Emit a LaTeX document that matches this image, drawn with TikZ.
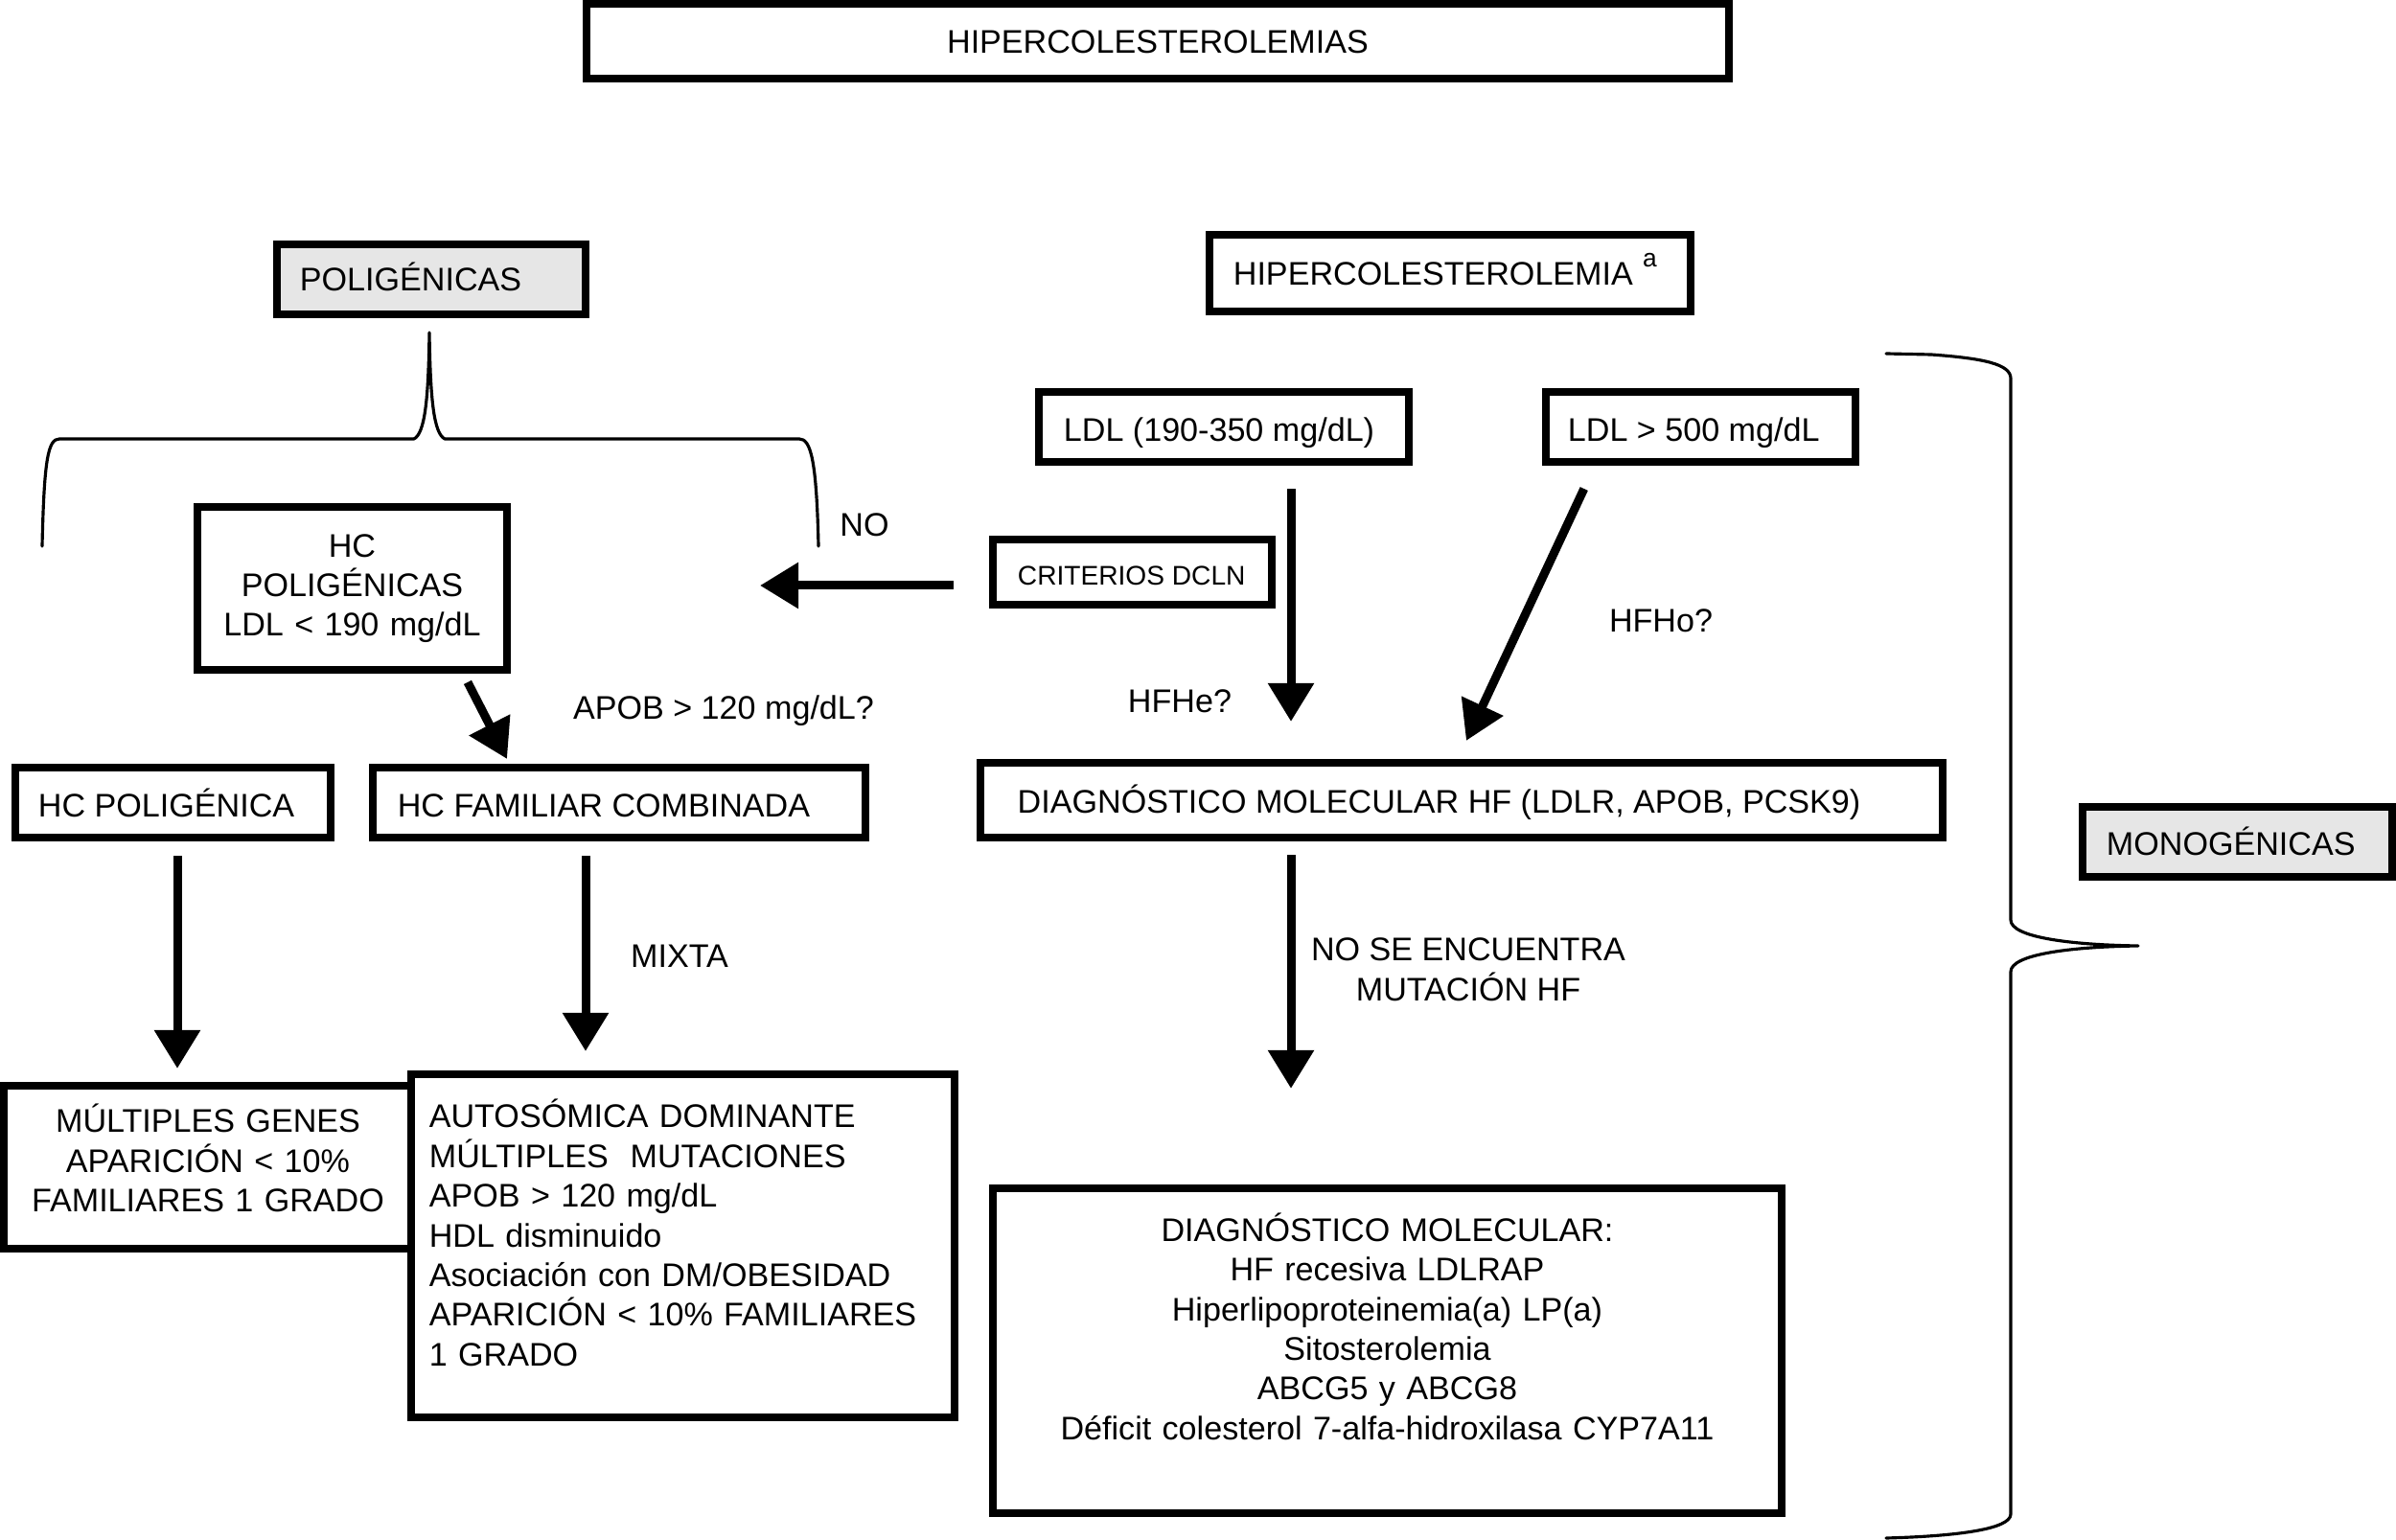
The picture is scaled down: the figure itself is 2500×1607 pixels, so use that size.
\documentclass[tikz,border=0pt]{standalone}
\usepackage{fontspec}
\setmainfont{Liberation Sans}
\usetikzlibrary{arrows.meta}
\definecolor{boxgray}{RGB}{230,230,230}
\newcommand\fsz{\fontsize{9.7pt}{11.8pt}\selectfont}
\newcommand\fsm{\fontsize{8pt}{9.6pt}\selectfont}
\newcommand\myhd[2]{\rule[-#2]{0pt}{\dimexpr#1+#2\relax}}
\newcommand\myht[1]{\rule{0pt}{#1}}
\newcommand\mydp[1]{\rule[-#1]{0pt}{#1}}
\newcommand\lline[2]{\makebox[#1][l]{#2}}
\begin{document}
\begin{tikzpicture}[x=0.01cm,y=-0.01cm,
  box/.style={draw, line width=0.08cm, fill=white, inner ysep=0pt, font=\fsz},
  graybox/.style={box, fill=boxgray},
  arr/.style={line width=0.09cm, -{Triangle[length=0.40cm,width=0.46cm]}},
  brace/.style={line width=0.9pt, line join=round, line cap=round},
  lbl/.style={inner sep=0pt, font=\fsz, anchor=base}]
\useasboundingbox (0,0) rectangle (2500,1607);

% boxes
\node[box, inner xsep=0pt, text width=11.92cm, align=center] (title) at (1208,43) {\myhd{0.516cm}{0.264cm}HIPERCOLESTEROLEMIAS};
\node[graybox, inner xsep=0.24cm] (polig) at (450,291.5) {\lline{2.74cm}{\myhd{0.49cm}{0.24cm}POLIGÉNICAS}};
\node[box, inner xsep=0.25cm] (hiper) at (1513,285) {\lline{4.52cm}{\myhd{0.53cm}{0.27cm}HIPERCOLESTEROLEMIA\hspace{0.3em}\raisebox{5.5pt}{\fontsize{7.5pt}{9pt}\selectfont a}}};
\node[box, inner xsep=0.26cm] (ldlA) at (1277,445.5) {\lline{3.34cm}{\myhd{0.51cm}{0.22cm}LDL (190-350 mg/dL)}};
\node[box, inner xsep=0.23cm] (ldlB) at (1774.5,445.5) {\lline{2.77cm}{\myhd{0.51cm}{0.22cm}LDL > 500 mg/dL}};
\node[box, inner xsep=0.26cm, font=\fsm] (crit) at (1181.5,597) {\lline{2.39cm}{\myhd{0.47cm}{0.21cm}CRITERIOS DCLN}};
\node[box, inner xsep=0pt, text width=3.23cm, align=center] (hcp) at (367.5,614) {\myht{0.52cm}HC\\POLIGÉNICAS\\LDL < 190 mg/dL\mydp{0.35cm}};
\node[box, inner xsep=0.24cm] (hcpg) at (180.5,837.5) {\lline{2.81cm}{\myhd{0.51cm}{0.22cm}HC POLIGÉNICA}};
\node[box, inner xsep=0.26cm] (hcfam) at (646,837.5) {\lline{4.62cm}{\myhd{0.51cm}{0.22cm}HC FAMILIAR COMBINADA}};
\node[box, inner xsep=0.39cm] (diag) at (1525,835) {\lline{9.26cm}{\myhd{0.52cm}{0.26cm}DIAGNÓSTICO MOLECULAR HF (LDLR, APOB, PCSK9)}};
\node[graybox, inner xsep=0.25cm] (mono) at (2334.5,878.5) {\lline{2.73cm}{\myhd{0.50cm}{0.23cm}MONOGÉNICAS}};
\node[box, inner xsep=0pt, text width=4.26cm, align=center] (mult) at (217,1218) {\myht{0.485cm}MÚLTIPLES GENES\\APARICIÓN < 10\%\\FAMILIARES 1 GRADO\mydp{0.385cm}};
\node[box, inner xsep=0.19cm, text width=5.29cm, align=left] (auto) at (712.5,1300.25) {\myht{0.55cm}AUTOSÓMICA DOMINANTE\\MÚLTIPLES\ \ MUTACIONES\\APOB > 120 mg/dL\\HDL disminuido\\Asociación con DM/OBESIDAD\\\mbox{APARICIÓN < 10\% FAMILIARES}\\1 GRADO\mydp{0.535cm}};
\node[box, inner xsep=0pt, text width=8.23cm, align=center] (diag2) at (1447.5,1409.5) {\myht{0.55cm}DIAGNÓSTICO MOLECULAR:\\HF recesiva LDLRAP\\Hiperlipoproteinemia(a) LP(a)\\Sitosterolemia\\ABCG5 y ABCG8\\Déficit colesterol 7-alfa-hidroxilasa CYP7A11\mydp{0.765cm}};

% labels
\node[lbl] (lNO) at (902,560) {NO};
\node[lbl] (lHFHe) at (1231,744) {HFHe?};
\node[lbl] (lHFHo) at (1733,660) {HFHo?};
\node[lbl] (lAPOB) at (755,751) {APOB > 120 mg/dL?};
\node[lbl] (lMIXTA) at (709,1009) {MIXTA};
\node[inner sep=0pt, font=\fsz, align=center] (lNOSE) at (1532,1011) {\myht{0.30cm}NO SE ENCUENTRA\\MUTACIÓN HF\mydp{0.05cm}};

% coordinates for arrow positions
\coordinate (tipNO) at (793,611);
\coordinate (xA) at (1347,0);
\coordinate (xB1) at (1664,0);
\coordinate (xB2) at (1521,0);
\coordinate (xC1) at (483.4,0);
\coordinate (xC2) at (531.6,0);
\coordinate (xD) at (185,0);
\coordinate (xE) at (611,0);

% arrows
\draw[arr, shorten <=0.37cm] (crit.west |- tipNO) -- (tipNO);
\draw[arr, shorten <=0.24cm, shorten >=0.39cm] (ldlA.south -| xA) -- (diag.north -| xA);
\draw[arr, shorten <=0.265cm, shorten >=0.21cm] (ldlB.south -| xB1) -- (diag.north -| xB2);
\draw[arr, shorten <=0.10cm, shorten >=0.056cm] (hcp.south -| xC1) -- (hcfam.north -| xC2);
\draw[arr, shorten <=0.15cm, shorten >=0.14cm] (hcpg.south -| xD) -- (mult.north -| xD);
\draw[arr, shorten <=0.15cm, shorten >=0.205cm] (hcfam.south -| xE) -- (auto.north -| xE);
\draw[arr, shorten <=0.14cm, shorten >=1.00cm] (diag.south -| xA) -- (diag2.north -| xA);

% braces
\draw[brace] (44,570) .. controls (46,480) and (50,458) .. (62,458) -- (432,458)
  .. controls (443,452) and (447,420) .. (448,347)
  .. controls (449,420) and (453,452) .. (464,458) -- (834,458)
  .. controls (846,458) and (852,480) .. (854,570);
\draw[brace] (1968,369) -- (2015,370) .. controls (2070,374) and (2098,380) .. (2098,395)
  -- (2098,960) .. controls (2098,978) and (2160,986) .. (2231,987)
  .. controls (2160,988) and (2098,996) .. (2098,1014)
  -- (2098,1580) .. controls (2098,1596) and (2040,1603) .. (1968,1605);
\end{tikzpicture}
\end{document}
